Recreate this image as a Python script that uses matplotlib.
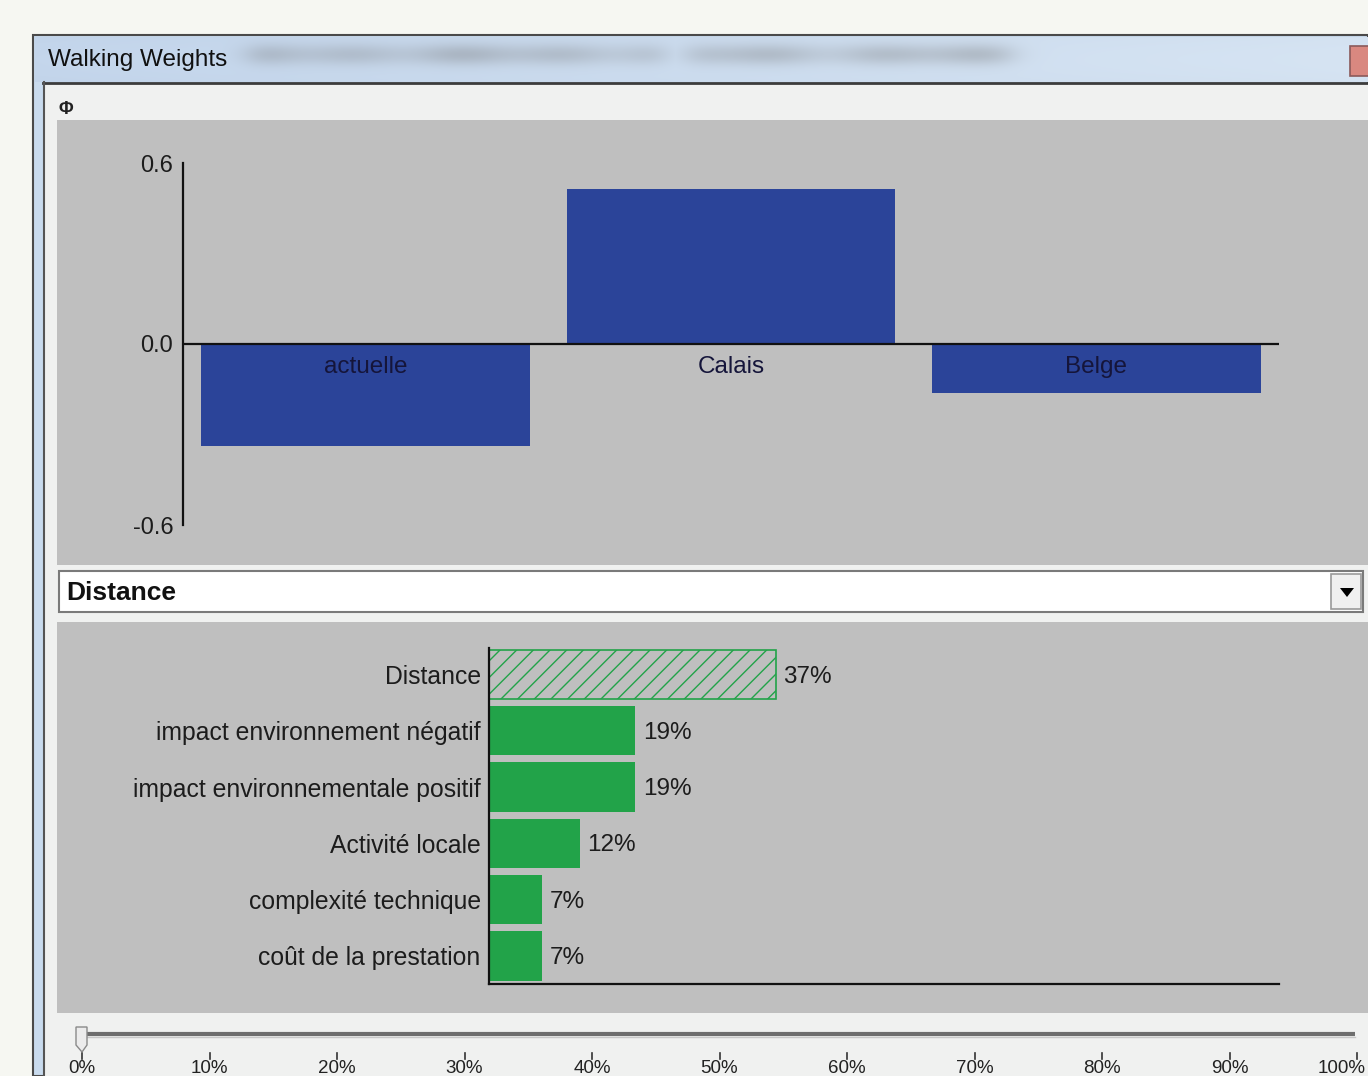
import numpy as np
import matplotlib
matplotlib.use("Agg")
import matplotlib.pyplot as plt
from matplotlib.patches import Rectangle, Polygon

# ---------------- data ----------------
alternatives = ["actuelle", "Calais", "Belge"]
alt_scores = [-0.338, 0.514, -0.162]
score_ticks = [-0.6, 0.0, 0.6]
score_tick_labels = ["-0.6", "0.0", "0.6"]

criteria = ["Distance", "impact environnement négatif",
            "impact environnementale positif", "Activité locale",
            "complexité technique", "coût de la prestation"]
weights = [0.370, 0.189, 0.189, 0.117, 0.068, 0.068]
selected_criterion = "Distance"

slider_labels = ["0%", "10%", "20%", "30%", "40%", "50%",
                 "60%", "70%", "80%", "90%", "100%"]
slider_value = 0.0

window_title = "Walking Weights"

# ---------------- style ----------------
plt.rcParams["font.family"] = ["Liberation Sans", "DejaVu Sans"]
W, H = 1368, 1076
BLUE = "#2B4499"
GREEN = "#22A349"
PANEL = "#BFBFBF"
TXT = "#1c1c1c"

fig = plt.figure(figsize=(W / 100, H / 100), dpi=100)


def ax_rect(l, t, r, b):
    return [l / W, 1 - b / H, (r - l) / W, (b - t) / H]


# ---------------- window chrome ----------------
bg = fig.add_axes([0, 0, 1, 1], zorder=0)
bg.set_xlim(0, W)
bg.set_ylim(H, 0)
bg.axis("off")
bg.add_patch(Rectangle((0, 0), W, H, facecolor="#F6F7F2", edgecolor="none"))
# outer frame
bg.add_patch(Rectangle((33, 35), W - 33, H - 35, facecolor="#C9DBEE",
                       edgecolor="#4a4a4a", lw=1.5))
# title bar gradient with blurred text
tb_h, tb_w = 45, W - 35
xs = np.linspace(0, 1, tb_w)
ys = np.linspace(0, 1, tb_h)
X, Y = np.meshgrid(xs, ys)
base = np.zeros((tb_h, tb_w, 3))
c0 = np.array([196, 214, 236]) / 255
c1 = np.array([214, 228, 243]) / 255
for k in range(3):
    base[..., k] = c0[k] + (c1[k] - c0[k]) * X - 0.03 * (Y - 0.5) ** 2
px = np.arange(tb_w) + 35
py = np.arange(tb_h) + 37
PX, PY = np.meshgrid(px, py)
dark = np.zeros_like(PX, dtype=float)
for a, b in [(250, 660), (690, 1015)]:
    sx = 1 / (1 + np.exp(-(PX - a) / 10)) * 1 / (1 + np.exp((PX - b) / 10))
    dark = np.maximum(dark, sx)
# uneven "word" texture
tex = 0.75 + 0.25 * np.cos((PX - 250) / 23.0) * np.cos((PX - 250) / 61.0)
vy = np.exp(-((PY - 54) / 11.0) ** 2)
dark = dark * vy * tex * 0.33
for k in range(3):
    base[..., k] = base[..., k] * (1 - dark) + 0.42 * dark
bg.imshow(np.clip(base, 0, 1), extent=(35, W, 82, 37), aspect="auto",
          interpolation="bilinear", zorder=1)
bg.text(48, 60, window_title, fontsize=17.5, color="#111111",
        va="center", ha="left", zorder=2)
# close button
bg.add_patch(Rectangle((1350, 46), 30, 30, facecolor="#D98880",
                       edgecolor="#8a5a5a", lw=1.2, zorder=2))
# inner frame
bg.add_patch(Rectangle((44, 83), W - 44, H - 83, facecolor="#F0F1F0",
                       edgecolor="none", zorder=2))
bg.plot([43, W], [82.5, 82.5], color="#3c3c3c", lw=2, zorder=3)
bg.plot([43.5, 43.5], [82, H], color="#555555", lw=1.5, zorder=3)
bg.text(66, 109, "Φ", fontsize=13, fontweight="bold", color="#222",
        ha="center", va="center", zorder=3)
# grey panels
bg.add_patch(Rectangle((57, 120), W - 57, 445, facecolor=PANEL,
                       edgecolor="none", zorder=2))
bg.add_patch(Rectangle((57, 622), W - 57, 391, facecolor=PANEL,
                       edgecolor="none", zorder=2))
# dropdown
bg.add_patch(Rectangle((59, 571), 1304, 41, facecolor="white",
                       edgecolor="#7a7a7a", lw=1.5, zorder=3))
bg.add_patch(Rectangle((1331, 574), 30, 35, facecolor="#F0F0F0",
                       edgecolor="#9a9a9a", lw=1.2, zorder=4))
bg.add_patch(Polygon([[1340, 588], [1354, 588], [1347, 597]],
                     closed=True, facecolor="black", edgecolor="none",
                     zorder=5))
bg.text(66, 593, selected_criterion, fontsize=19, fontweight="bold",
        color="#111", ha="left", va="center", zorder=4)
# slider
x0s, x1s = 82, 1357
bg.plot([80, 1355], [1034, 1034], color="#6e6e6e", lw=3, zorder=3,
        solid_capstyle="butt")
bg.plot([80, 1355], [1037, 1037], color="#c8c8c8", lw=1, zorder=3)
tx = x0s + slider_value * (x1s - x0s)
bg.add_patch(Polygon([[tx - 6, 1027], [tx + 5, 1027], [tx + 5, 1045],
                      [tx, 1052], [tx - 6, 1045]], closed=True,
                     facecolor="#ECECEC", edgecolor="#8a8a8a", lw=1,
                     zorder=4))
for i, lab in enumerate(slider_labels):
    x = x0s + i * (x1s - x0s) / (len(slider_labels) - 1)
    bg.plot([x, x], [1053, 1059], color="#333", lw=1.2, zorder=3)
    ha = "right" if i == len(slider_labels) - 1 else "center"
    xx = W - 2 if i == len(slider_labels) - 1 else x
    bg.text(xx, 1060, lab, fontsize=13.5, color="#222", ha=ha,
            va="top", zorder=3)

# ---------------- top chart: alternative scores ----------------
ax1 = fig.add_axes(ax_rect(183, 163, 1279, 525), zorder=1)
ax1.patch.set_visible(False)
pos = np.arange(len(alternatives))
ax1.bar(pos, alt_scores, width=0.9, color=BLUE, edgecolor="none", zorder=2)
ax1.axhline(0, color="#111", lw=1.6, zorder=3)
ax1.set_xlim(-0.5, len(alternatives) - 0.5)
ax1.set_ylim(score_ticks[0], score_ticks[-1])
ax1.set_yticks(score_ticks)
ax1.set_yticklabels(score_tick_labels)
ax1.set_xticks([])
ax1.tick_params(axis="y", length=0, pad=7, labelsize=17, labelcolor=TXT)
for s in ["top", "right", "bottom"]:
    ax1.spines[s].set_visible(False)
ax1.spines["left"].set_linewidth(1.6)
ax1.spines["left"].set_color("#111")
for i, name in enumerate(alternatives):
    ax1.annotate(name, (i, 0), xytext=(0, -16.5), textcoords="offset points",
                 ha="center", va="center", fontsize=17.5, color="#15153a",
                 zorder=4)

# ---------------- bottom chart: weights ----------------
ax2 = fig.add_axes(ax_rect(489, 648, 1279, 984), zorder=1)
ax2.patch.set_visible(False)
ypos = np.arange(len(criteria))
for i, (c, w) in enumerate(zip(criteria, weights)):
    if c == selected_criterion:
        ax2.barh(i, w, height=0.86, facecolor=PANEL, edgecolor=GREEN,
                 hatch="//", lw=1.2, zorder=2)
    else:
        ax2.barh(i, w, height=0.88, color=GREEN, edgecolor="none", zorder=2)
    ax2.annotate(f"{round(w * 100)}%", (w, i), xytext=(5.5, -1.5),
                 textcoords="offset points", ha="left", va="center",
                 fontsize=17.5, color=TXT)
ax2.set_xlim(0, 1.02)
ax2.set_ylim(len(criteria) - 0.5, -0.47)
ax2.set_yticks(ypos)
ax2.set_yticklabels(criteria)
ax2.set_xticks([])
ax2.tick_params(axis="y", length=0, pad=6, labelsize=17.8, labelcolor=TXT)
for s in ["top", "right"]:
    ax2.spines[s].set_visible(False)
for s in ["left", "bottom"]:
    ax2.spines[s].set_linewidth(1.6)
    ax2.spines[s].set_color("#111")

fig.savefig("out.png", dpi=100)
